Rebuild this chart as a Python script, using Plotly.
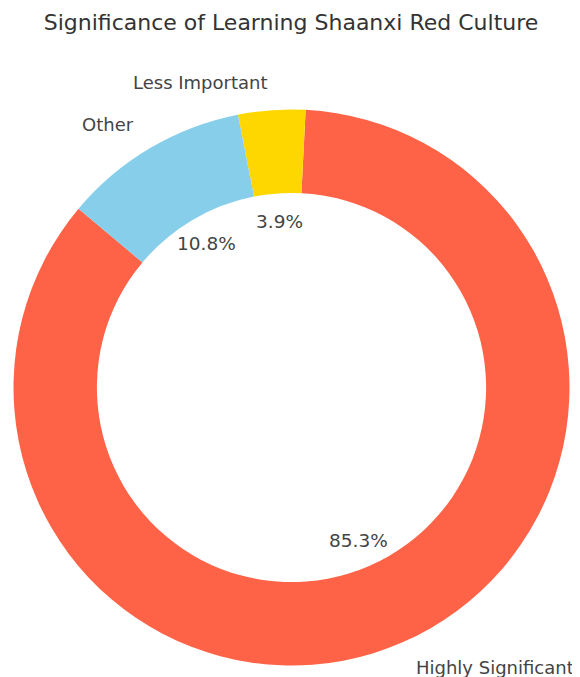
import math
import plotly.graph_objects as go

labels = ["Highly Significant", "Less Important", "Other"]
values = [85.3, 3.9, 10.8]
colors = ["#FF6347", "#FFD700", "#87CEEB"]
start_angle = 140  # degrees, counterclockwise from 3 o'clock

OFF = 8  # default page body margin
W, H = 580 - OFF, 677 - OFF
cx, cy, R = 291.5 - OFF, 387.5 - OFF, 278  # pixel geometry of the donut in figure px

total = sum(values)
first_end = start_angle + 360 * values[0] / total
# plotly (counterclockwise): first slice ends at the rotation point
rotation = (90 - first_end) % 360

fig = go.Figure(go.Pie(
    labels=labels, values=values, sort=False,
    direction="counterclockwise", rotation=rotation,
    marker=dict(colors=colors, line=dict(width=0)),
    hole=0.7, textinfo="none", hoverinfo="label+percent",
    domain=dict(x=[(cx - R) / W, (cx + R) / W], y=[1 - (cy + R) / H, 1 - (cy - R) / H]),
    showlegend=False,
))

ang = start_angle
font_col = "#444444"
for lab, v in zip(labels, values):
    span = 360 * v / total
    mid = math.radians(ang + span / 2)
    ang += span
    c, s = math.cos(mid), math.sin(mid)
    lx = (cx + 1.1 * R * c) / W
    ly = 1 - (cy - 1.1 * R * s) / H
    fig.add_annotation(x=lx, y=ly, xref="paper", yref="paper", text=lab,
                       showarrow=False, xanchor="left" if c > 0 else "right",
                       yanchor="middle", font=dict(size=18, color=font_col,
                                                   family="DejaVu Sans"))
    px = (cx + 0.6 * R * c) / W
    py = 1 - (cy - 0.6 * R * s) / H
    fig.add_annotation(x=px, y=py, xref="paper", yref="paper",
                       text=f"{100 * v / total:.1f}%", showarrow=False,
                       xanchor="center", yanchor="middle",
                       font=dict(size=18.5, color=font_col, family="DejaVu Sans"))

fig.update_layout(
    width=W, height=H,
    margin=dict(l=0, r=0, t=0, b=0),
    paper_bgcolor="white", plot_bgcolor="white",
    title=dict(text="Significance of Learning Shaanxi Red Culture",
               x=(291 - OFF) / W, xanchor="center", y=1 - (22 - OFF) / H, yanchor="middle",
               font=dict(size=22, color="#333333", family="DejaVu Sans")),
)

fig.write_html("out.html")
